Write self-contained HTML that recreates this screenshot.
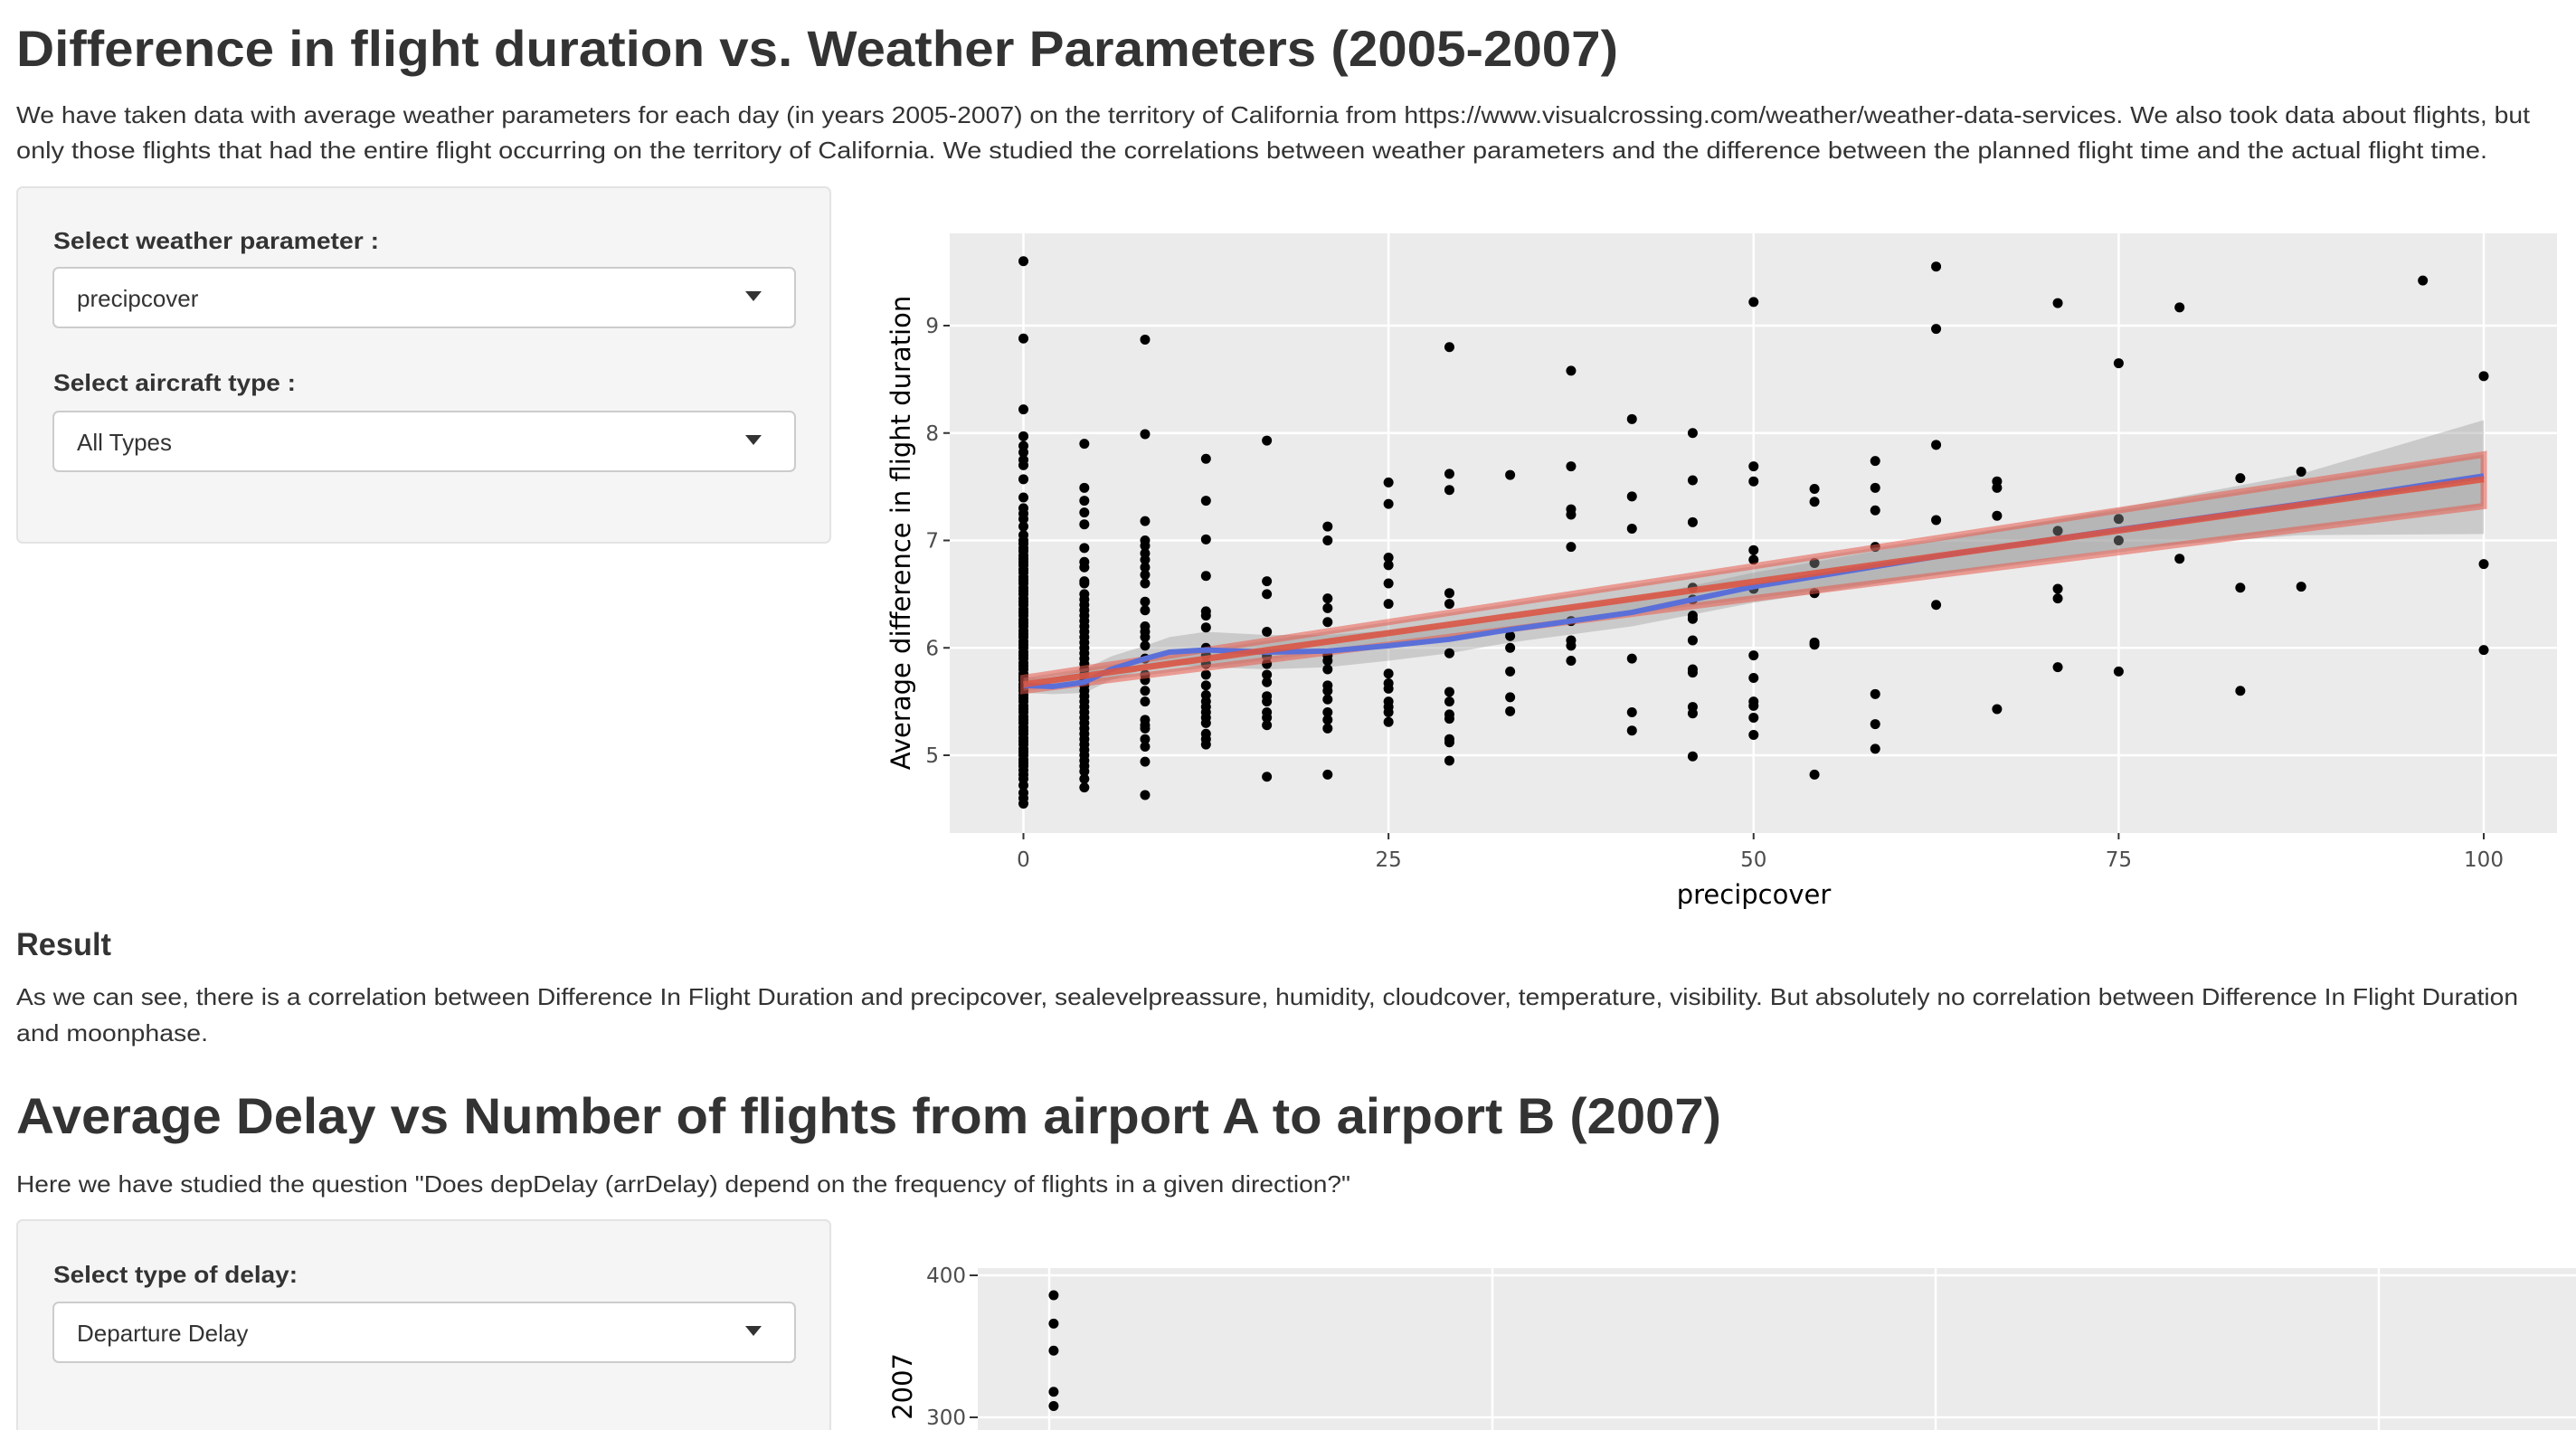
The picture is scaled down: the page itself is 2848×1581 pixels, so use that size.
<!DOCTYPE html>
<html><head><meta charset="utf-8"><style>
html,body{margin:0;padding:0;background:#fff;width:2848px;height:1581px;overflow:hidden}
svg{display:block}
.t{font-family:"Liberation Sans",Arial,sans-serif;fill:#333}
</style></head><body>
<svg id="page" width="2848" height="1581" viewBox="0 0 2848 1581" xmlns="http://www.w3.org/2000/svg">
<text class="t" x="18" y="73" font-size="56" font-weight="bold" textLength="1771" lengthAdjust="spacingAndGlyphs">Difference in flight duration vs. Weather Parameters (2005-2007)</text>
<text class="t" x="18" y="136" font-size="26" textLength="2779" lengthAdjust="spacingAndGlyphs">We have taken data with average weather parameters for each day (in years 2005-2007) on the territory of California from https://www.visualcrossing.com/weather/weather-data-services. We also took data about flights, but</text>
<text class="t" x="18" y="175" font-size="26" textLength="2732" lengthAdjust="spacingAndGlyphs">only those flights that had the entire flight occurring on the territory of California. We studied the correlations between weather parameters and the difference between the planned flight time and the actual flight time.</text>

<g>
<rect x="19" y="207" width="899" height="393" rx="6" fill="#f5f5f5" stroke="#e3e3e3" stroke-width="2"/>
<text class="t" x="59" y="275" font-size="26" font-weight="bold" textLength="360" lengthAdjust="spacingAndGlyphs">Select weather parameter :</text>
<g>
<rect x="59" y="296" width="820" height="66" rx="6" fill="#fff" stroke="#ccc" stroke-width="2"/>
<text class="t" x="85" y="339" font-size="26">precipcover</text>
<path d="M824 322 L842 322 L833 333 Z" fill="#333"/>
</g>
<text class="t" x="59" y="432" font-size="26" font-weight="bold" textLength="268" lengthAdjust="spacingAndGlyphs">Select aircraft type :</text>
<g>
<rect x="59" y="455" width="820" height="66" rx="6" fill="#fff" stroke="#ccc" stroke-width="2"/>
<text class="t" x="85" y="498" font-size="26">All Types</text>
<path d="M824 481 L842 481 L833 492 Z" fill="#333"/>
</g>
</g>

<g id="chart1">
<rect x="1050" y="258" width="1777" height="663" fill="#ebebeb"/>
<g id="grid1"></g>
<g id="band1"></g>
<g id="pts1"></g>
<g id="lines1"></g>
<g id="axes1"></g>
<text x="1939" y="999" font-size="29" text-anchor="middle" font-family="DejaVu Sans,sans-serif" fill="#000">precipcover</text>
<text transform="translate(1006,589) rotate(-90)" font-size="29" text-anchor="middle" font-family="DejaVu Sans,sans-serif" fill="#000">Average difference in flight duration</text>
</g>

<text class="t" x="18" y="1056" font-size="35" font-weight="bold" textLength="105" lengthAdjust="spacingAndGlyphs">Result</text>
<text class="t" x="18" y="1111" font-size="26" textLength="2766" lengthAdjust="spacingAndGlyphs">As we can see, there is a correlation between Difference In Flight Duration and precipcover, sealevelpreassure, humidity, cloudcover, temperature, visibility. But absolutely no correlation between Difference In Flight Duration</text>
<text class="t" x="18" y="1151" font-size="26" textLength="212" lengthAdjust="spacingAndGlyphs">and moonphase.</text>

<text class="t" x="18" y="1253" font-size="56" font-weight="bold" textLength="1885" lengthAdjust="spacingAndGlyphs">Average Delay vs Number of flights from airport A to airport B (2007)</text>
<text class="t" x="18" y="1318" font-size="26" textLength="1475" lengthAdjust="spacingAndGlyphs">Here we have studied the question "Does depDelay (arrDelay) depend on the frequency of flights in a given direction?"</text>

<g>
<rect x="19" y="1349" width="899" height="250" rx="6" fill="#f5f5f5" stroke="#e3e3e3" stroke-width="2"/>
<text class="t" x="59" y="1418" font-size="26" font-weight="bold" textLength="270" lengthAdjust="spacingAndGlyphs">Select type of delay:</text>
<g>
<rect x="59" y="1440" width="820" height="66" rx="6" fill="#fff" stroke="#ccc" stroke-width="2"/>
<text class="t" x="85" y="1483" font-size="26">Departure Delay</text>
<path d="M824 1466 L842 1466 L833 1477 Z" fill="#333"/>
</g>
</g>

<g id="chart2">
<rect x="1081" y="1402" width="1767" height="179" fill="#ebebeb"/>
<g id="grid2"></g>
<g id="pts2"></g>
<text transform="translate(1008,1496) rotate(-90)" font-size="29" text-anchor="end" font-family="DejaVu Sans,sans-serif" fill="#000">Number of flights, 2007</text>
</g>
</svg>
<script>
const NS="http://www.w3.org/2000/svg";
// Chart 1 data
const xTicks=[0,25,50,75,100];
const yTicks=[5,6,7,8,9];
const colX=[0,4.17,8.33,12.5,16.67,20.83,25,29.17,33.33,37.5,41.67,45.83,50,54.17,58.33,62.5,66.67,70.83,75,79.17,83.33,87.5,95.83,100];
const colY=[
[9.6,8.88,8.22,7.97,7.88,7.82,7.75,7.7,7.57,7.4,7.3,7.25,7.2,7.13,7.05,7.0,6.97,6.93,6.9,6.86,6.83,6.8,6.77,6.73,6.7,6.66,6.63,6.6,6.56,6.53,6.5,6.46,6.43,6.4,6.36,6.33,6.3,6.26,6.23,6.2,6.16,6.13,6.1,6.06,6.03,6.0,5.96,5.93,5.9,5.86,5.83,5.8,5.76,5.73,5.7,5.66,5.63,5.6,5.56,5.53,5.5,5.46,5.43,5.4,5.36,5.33,5.3,5.26,5.23,5.2,5.16,5.13,5.1,5.06,5.03,5.0,4.96,4.93,4.9,4.86,4.82,4.78,4.72,4.65,4.6,4.55],
[7.9,7.49,7.37,7.26,7.15,6.93,6.8,6.75,6.62,6.6,6.5,6.45,6.4,6.35,6.3,6.25,6.2,6.15,6.1,6.05,6.0,5.95,5.9,5.85,5.8,5.75,5.7,5.65,5.6,5.55,5.5,5.45,5.4,5.35,5.3,5.25,5.2,5.15,5.1,5.05,5.0,4.95,4.9,4.85,4.78,4.7],
[8.87,7.99,7.18,7.0,6.95,6.88,6.82,6.75,6.68,6.6,6.43,6.35,6.2,6.15,6.1,6.02,5.9,5.75,5.7,5.6,5.5,5.33,5.28,5.25,5.15,5.08,4.94,4.63],
[7.76,7.37,7.01,6.67,6.34,6.3,6.19,6.0,5.93,5.85,5.75,5.65,5.56,5.5,5.45,5.4,5.35,5.3,5.2,5.15,5.1],
[7.93,6.62,6.5,6.15,5.92,5.85,5.75,5.68,5.55,5.5,5.4,5.35,5.28,4.8],
[7.13,7.0,6.46,6.37,6.24,5.93,5.88,5.8,5.65,5.6,5.52,5.4,5.33,5.25,4.82],
[7.54,7.34,6.84,6.77,6.6,6.41,5.76,5.67,5.62,5.5,5.45,5.4,5.31],
[8.8,7.62,7.47,6.51,6.41,5.95,5.59,5.5,5.38,5.34,5.15,5.12,4.95],
[7.61,6.11,6.0,5.78,5.54,5.41],
[8.58,7.69,7.29,7.24,6.94,6.25,6.07,6.02,5.88],
[8.13,7.41,7.11,5.9,5.4,5.23],
[8.0,7.56,7.17,6.56,6.45,6.3,6.27,6.07,5.8,5.77,5.45,5.39,4.99],
[9.22,7.69,7.55,6.91,6.82,6.55,5.93,5.72,5.5,5.46,5.35,5.19],
[7.48,7.36,6.79,6.51,6.05,6.03,4.82],
[7.74,7.49,7.28,6.94,5.57,5.29,5.06],
[9.55,8.97,7.89,7.19,6.4],
[7.55,7.49,7.23,5.43],
[9.21,7.09,6.55,6.46,5.82],
[8.65,7.2,7.0,5.78],
[9.17,6.83],
[7.58,6.56,5.6],
[7.64,6.57],
[9.42],
[8.53,6.78,5.98]];
const loessX=[0,2,4.17,6,8.33,10,12.5,16.67,20.83,25,29.17,33.33,41.67,50,62.5,75,87.5,100];
const loessY=[5.65,5.64,5.68,5.8,5.9,5.96,5.98,5.96,5.97,6.02,6.08,6.17,6.33,6.57,6.85,7.1,7.34,7.6];
const loessLo=[5.58,5.57,5.58,5.7,5.8,5.85,5.82,5.8,5.82,5.88,5.95,6.05,6.2,6.42,6.68,6.92,7.05,7.06];
const loessHi=[5.72,5.72,5.8,5.92,6.02,6.1,6.15,6.12,6.12,6.16,6.21,6.29,6.46,6.7,7.0,7.3,7.62,8.12];
const linX=[0,100];
const linY=[5.66,7.57];
const linLo=[5.6,7.32];
const linHi=[5.72,7.8];
const X=v=>1131.5+v*16.145, Y=v=>360+(9-v)*118.75;
function el(t,a,p){const e=document.createElementNS(NS,t);for(const k in a)e.setAttribute(k,a[k]);p.appendChild(e);return e;}
const g1=document.getElementById('grid1'),ax1=document.getElementById('axes1');
xTicks.forEach(v=>{
 const l=el('line',{x1:X(v),x2:X(v),y1:258,y2:921,stroke:'#fff','stroke-width':2.5},g1);
 
 
 el('line',{x1:X(v),x2:X(v),y1:921,y2:928,stroke:'#333','stroke-width':2},ax1);
 const t=el('text',{x:X(v),y:958,'font-size':23,'text-anchor':'middle',fill:'#4d4d4d','font-family':'DejaVu Sans,sans-serif'},ax1);t.textContent=v;
 
 
});
yTicks.forEach(v=>{
 const l=el('line',{x1:1050,x2:2827,y1:Y(v),y2:Y(v),stroke:'#fff','stroke-width':2.5},g1);
 
 
 el('line',{x1:1043,x2:1050,y1:Y(v),y2:Y(v),stroke:'#333','stroke-width':2},ax1);
 const t=el('text',{x:1038,y:Y(v)+8,'font-size':23,'text-anchor':'end',fill:'#4d4d4d','font-family':'DejaVu Sans,sans-serif'},ax1);t.textContent=v;
 
 
});
const p1=document.getElementById('pts1');
colX.forEach((x,i)=>colY[i].forEach(y=>{
 const c=el('circle',{cx:X(x),cy:Y(y),r:5.5,fill:'#000'},p1);
 
 
}));
function ribbon(xs,lo,hi){let d='M'+xs.map((x,i)=>X(x)+','+Y(hi[i])).join(' L');for(let i=xs.length-1;i>=0;i--)d+=' L'+X(xs[i])+','+Y(lo[i]);return d+' Z';}
const b1=document.getElementById('band1');
const lb=el('path',{d:ribbon(loessX,loessLo,loessHi),fill:'#999','fill-opacity':0.4},b1);


const ln=document.getElementById('lines1');
const rb=el('path',{d:ribbon(linX,linLo,linHi),fill:'#999','fill-opacity':0.4,stroke:'#e8594a','stroke-opacity':0.55,'stroke-width':7},ln);


const lp=el('path',{d:'M'+loessX.map((x,i)=>X(x)+','+Y(loessY[i])).join(' L'),fill:'none',stroke:'#5b6fd8','stroke-width':6},ln);


const rl=el('path',{d:'M'+linX.map((x,i)=>X(x)+','+Y(linY[i])).join(' L'),fill:'none',stroke:'#d95545','stroke-opacity':0.9,'stroke-width':7},ln);



// Chart 2 data
const x2Grid=[0,100,200,300];
const y2Ticks=[300,400];
const delayX=[1,1,1,1,1];
const delayY=[386,366,347,318,308];
const X2=v=>1160+v*4.9, Y2=v=>1410+(400-v)*1.57;
const g2=document.getElementById('grid2');
x2Grid.forEach(v=>{
 const l=el('line',{x1:X2(v),x2:X2(v),y1:1402,y2:1581,stroke:'#fff','stroke-width':2.5},g2);
 
 
});
y2Ticks.forEach(v=>{
 const l=el('line',{x1:1081,x2:2848,y1:Y2(v),y2:Y2(v),stroke:'#fff','stroke-width':2.5},g2);
 
 
 el('line',{x1:1072,x2:1081,y1:Y2(v),y2:Y2(v),stroke:'#333','stroke-width':2},g2);
 const t=el('text',{x:1068,y:Y2(v)+8,'font-size':23,'text-anchor':'end',fill:'#4d4d4d','font-family':'DejaVu Sans,sans-serif'},g2);t.textContent=v;
 
 
});
const p2=document.getElementById('pts2');
delayX.forEach((x,i)=>{
 const c=el('circle',{cx:X2(x),cy:Y2(delayY[i]),r:5.5,fill:'#000'},p2);
 
 
});
</script>
</body></html>
